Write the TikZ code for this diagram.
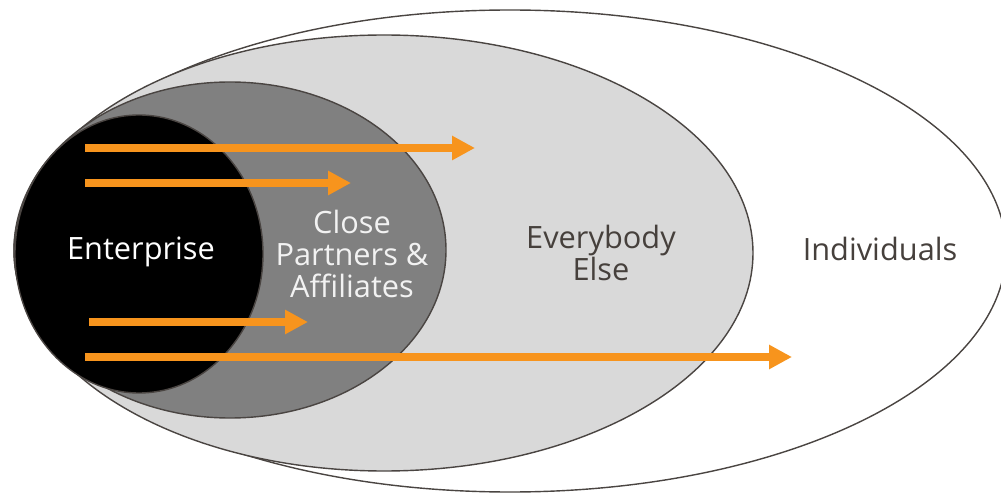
\documentclass[tikz,border=0pt]{standalone}
\usepackage{fontspec}
\setmainfont{Open Sans}
\usetikzlibrary{arrows.meta}
\definecolor{rim}{HTML}{4A4542}
\definecolor{inkgray}{HTML}{46403C}
\definecolor{flowor}{HTML}{F7941D}
\tikzset{
  ring/.style={draw=rim,line width=0.8pt},
  flow/.style={draw=flowor,line width=4.6pt,-{Triangle[length=13pt,width=13pt]}},
  lbl/.style={align=center,font=\fontsize{17.5}{18}\selectfont}
}
\begin{document}
\begin{tikzpicture}[x=0.02cm,y=-0.02cm]
  \useasboundingbox (0,0) rectangle (1001,493);
  \draw[ring,fill=white] (510,251) ellipse [x radius=496,y radius=241];
  \draw[ring,fill=black!15] (384,253) ellipse [x radius=369,y radius=218];
  \draw[ring,fill=black!50] (230,250) ellipse [x radius=216,y radius=168];
  \draw[ring,fill=black] (139,254) ellipse [x radius=124,y radius=139];
  \coordinate (s1) at (85,148);
  \coordinate (e1) at (475,148);
  \coordinate (s2) at (85,183);
  \coordinate (e2) at (351,183);
  \coordinate (s3) at (89,322);
  \coordinate (e3) at (308,322);
  \coordinate (s4) at (85,357);
  \coordinate (e4) at (792,357);
  \foreach \a/\b in {s1/e1,s2/e2,s3/e3,s4/e4}
    \draw[flow] (\a) -- (\b);
  \node[lbl,text=white] (enterprise) at (141,252) {Enterprise};
  \node[lbl,text=black!5] (partners) at (352,254) {Close\\Partners \&\\Affiliates};
  \node[lbl,text=inkgray] (everybody) at (601,253) {Everybody\\Else};
  \node[lbl,text=inkgray] (individuals) at (880,249) {Individuals};
\end{tikzpicture}
\end{document}
